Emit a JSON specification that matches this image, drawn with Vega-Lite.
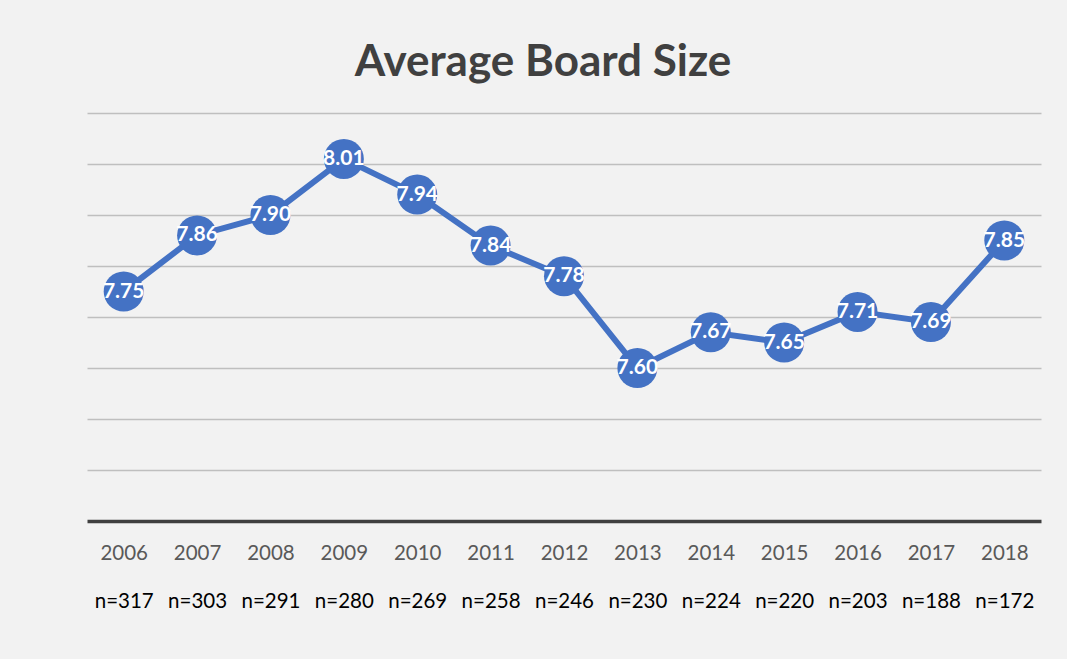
{
  "$schema": "https://vega.github.io/schema/vega-lite/v6.json",
  "width": 954,
  "height": 408,
  "autosize": {"type": "none"},
  "padding": {"left": 87, "top": 113, "right": 26, "bottom": 138},
  "background": "#f2f2f2",
  "config": {"view": {"stroke": null}, "font": "Lato"},
  "title": {
    "text": "Average Board Size",
    "font": "Lato",
    "fontSize": 44,
    "fontWeight": "bold",
    "color": "#404040",
    "anchor": "middle",
    "frame": "group",
    "baseline": "alphabetic",
    "offset": 36,
    "dx": -21,
    "dy": 43
  },
  "data": {
    "values": [
      {"year": "2006", "value": 7.75, "n": "n=317"},
      {"year": "2007", "value": 7.86, "n": "n=303"},
      {"year": "2008", "value": 7.90, "n": "n=291"},
      {"year": "2009", "value": 8.01, "n": "n=280"},
      {"year": "2010", "value": 7.94, "n": "n=269"},
      {"year": "2011", "value": 7.84, "n": "n=258"},
      {"year": "2012", "value": 7.78, "n": "n=246"},
      {"year": "2013", "value": 7.60, "n": "n=230"},
      {"year": "2014", "value": 7.67, "n": "n=224"},
      {"year": "2015", "value": 7.65, "n": "n=220"},
      {"year": "2016", "value": 7.71, "n": "n=203"},
      {"year": "2017", "value": 7.69, "n": "n=188"},
      {"year": "2018", "value": 7.85, "n": "n=172"}
    ]
  },
  "encoding": {
    "y": {
      "field": "value",
      "type": "quantitative",
      "scale": {"domain": [7.3, 8.1], "nice": false, "zero": false},
      "axis": {
        "title": null,
        "labels": false,
        "ticks": false,
        "domain": false,
        "values": [7.4, 7.5, 7.6, 7.7, 7.8, 7.9, 8.0, 8.1],
        "gridColor": "#bfbfbf",
        "gridWidth": 1.5
      }
    }
  },
  "layer": [
    {
      "layer": [
        {
          "mark": {"type": "line", "color": "#4472c4", "strokeWidth": 6},
          "encoding": {
            "x": {
              "field": "year",
              "type": "ordinal",
              "sort": null,
              "scale": {"type": "point", "padding": 0.5},
              "axis": {
                "title": null,
                "orient": "bottom",
                "labelAngle": 0,
                "labelFont": "Lato",
                "labelFontSize": 20.5,
                "labelColor": "#595959",
                "labelPadding": 22,
                "ticks": false,
                "tickSize": 0,
                "domainColor": "#404040",
                "domainWidth": 3.5,
                "grid": false
              }
            }
          }
        },
        {
          "mark": {"type": "circle", "color": "#4472c4", "opacity": 1, "size": 1600},
          "encoding": {
            "x": {"field": "year", "type": "ordinal", "sort": null}
          }
        },
        {
          "mark": {"type": "text", "color": "white", "font": "Lato", "fontWeight": "bold", "fontSize": 21, "baseline": "middle", "align": "center"},
          "encoding": {
            "x": {"field": "year", "type": "ordinal", "sort": null},
            "text": {"field": "value", "type": "quantitative", "format": ".2f"}
          }
        }
      ]
    },
    {
      "mark": {"type": "point", "opacity": 0},
      "encoding": {
        "x": {
          "field": "n",
          "type": "nominal",
          "sort": null,
          "scale": {"type": "point", "padding": 0.5},
          "axis": {
            "title": null,
            "orient": "bottom",
            "labelAngle": 0,
            "labelFont": "Lato",
            "labelFontSize": 20.5,
            "labelColor": "#000000",
            "labelPadding": 70,
            "ticks": false,
            "tickSize": 0,
            "domain": false,
            "grid": false
          }
        }
      }
    }
  ],
  "resolve": {"scale": {"x": "independent"}, "axis": {"x": "independent"}}
}
